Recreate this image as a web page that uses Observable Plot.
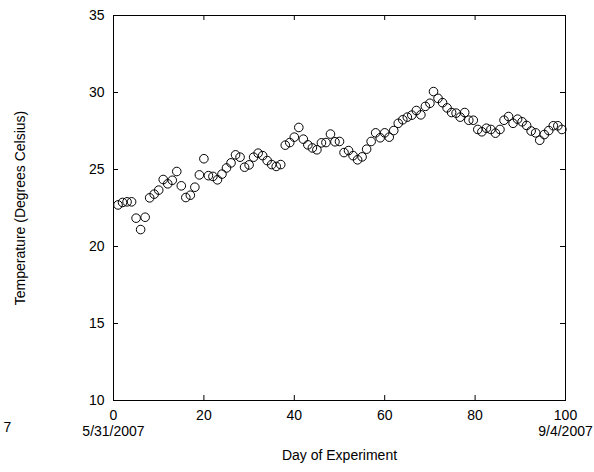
<!DOCTYPE html>
<html><head><meta charset="utf-8">
<script src="https://cdn.jsdelivr.net/npm/d3@7"></script>
<script src="https://cdn.jsdelivr.net/npm/@observablehq/plot@0.6"></script>
<style>body{margin:0;background:#fff}</style>
</head><body><div id="chart"></div>
<script>
const days = [1,2,3,4,5,6,7,8,9,10,11,12,13,14,15,16,17,18,19,20,21,22,23,24,25,26,27,28,29,30,31,32,33,34,35,36,37,38,39,40,41,42,43,44,45,46,47,48,49,50,51,52,53,54,55,56,57,58,59,60,61,62,63,64,65,66,67,68,69,70,70.8,71.8,72.8,73.8,74.8,75.8,76.7,77.7,78.6,79.6,80.6,81.5,82.5,83.5,84.5,85.5,86.4,87.4,88.4,89.4,90.4,91.4,92.4,93.4,94.3,95.3,96.3,97.3,98.3,99.2];
const temps = [22.7,22.86,22.9,22.9,21.84,21.1,21.9,23.16,23.4,23.66,24.35,24.07,24.3,24.87,23.94,23.18,23.33,23.85,24.65,25.7,24.6,24.55,24.33,24.7,25.1,25.43,25.95,25.8,25.15,25.3,25.8,26.06,25.9,25.58,25.32,25.2,25.32,26.58,26.75,27.1,27.73,26.97,26.6,26.4,26.28,26.73,26.75,27.3,26.8,26.82,26.1,26.23,25.9,25.63,25.82,26.32,26.82,27.38,27.06,27.38,27.1,27.53,28.0,28.23,28.4,28.53,28.83,28.55,29.1,29.3,30.06,29.62,29.34,29.0,28.7,28.66,28.4,28.7,28.2,28.2,27.6,27.45,27.68,27.6,27.36,27.6,28.2,28.44,28.0,28.27,28.1,27.86,27.5,27.38,26.9,27.27,27.53,27.84,27.84,27.6];
const xTicks = [0,20,40,60,80,100];
const xTickLabels = ["0\n5/31/2007","20","40","60","80","100\n9/4/2007"];
const xInnerTicks = [20,40,60,80];
const yTicks = [10,15,20,25,30,35];
const yInnerTicks = [15,20,25,30];
const data = days.map((d,i)=>({day:d, temp:temps[i]}));
const font = "Liberation Sans, Arial, Helvetica, sans-serif";
const chart = Plot.plot({
  width:594, height:472, marginLeft:113, marginRight:29, marginTop:15, marginBottom:72,
  style:{fontFamily:font, fontSize:"14px", color:"#000", background:"#fff", overflow:"visible"},
  x:{domain:[0,100]}, y:{domain:[10,35]},
  marks:[
    Plot.frame({stroke:"#000", strokeWidth:1}),
    Plot.ruleX(xInnerTicks, {x:d=>d, insetTop:380, stroke:"#000"}),
    Plot.ruleX(xInnerTicks, {x:d=>d, insetBottom:380, stroke:"#000"}),
    Plot.ruleY(yInnerTicks, {y:d=>d, insetRight:447, stroke:"#000"}),
    Plot.ruleY(yInnerTicks, {y:d=>d, insetLeft:447, stroke:"#000"}),
    Plot.axisX({ticks:xTicks, tickSize:0, tickPadding:9, tickFormat:(d,i)=>xTickLabels[i], fontSize:14, lineHeight:1.1,
      label:"Day of Experiment", labelAnchor:"center", labelOffset:59, labelArrow:false}),
    Plot.axisY({ticks:yTicks, tickSize:0, tickPadding:9, fontSize:14,
      label:"Temperature (Degrees Celsius)", labelAnchor:"center", labelOffset:98, labelArrow:false}),
    Plot.text(["7"], {frameAnchor:"bottom-left", text:d=>d, dx:-110, dy:31, fontSize:14}),
    Plot.dot(data, {x:"day", y:"temp", r:4.3, stroke:"#000", strokeWidth:1, fill:"none"})
  ]
});
document.getElementById("chart").appendChild(chart);
</script>
</body></html>
